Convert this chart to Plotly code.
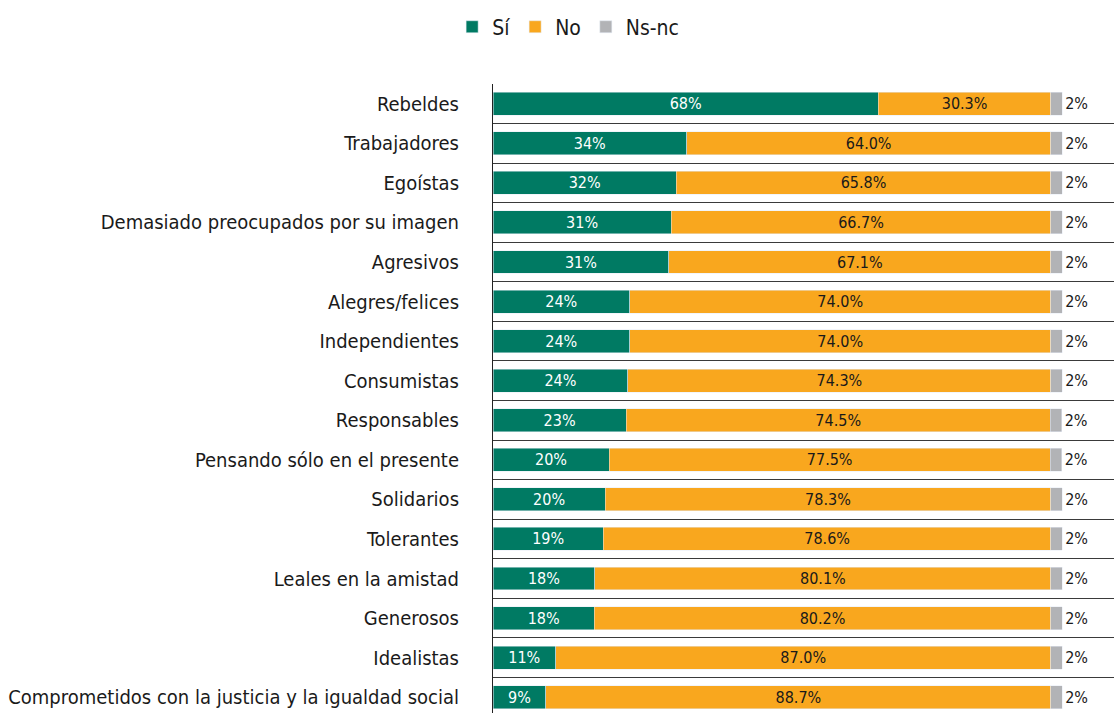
import plotly.graph_objects as go

categorias = [
    "Rebeldes", "Trabajadores", "Egoístas", "Demasiado preocupados por su imagen",
    "Agresivos", "Alegres/felices", "Independientes", "Consumistas", "Responsables",
    "Pensando sólo en el presente", "Solidarios", "Tolerantes", "Leales en la amistad",
    "Generosos", "Idealistas", "Comprometidos con la justicia y la igualdad social",
]
si = [67.7, 34.0, 32.2, 31.3, 30.9, 24.0, 24.0, 23.7, 23.4, 20.4, 19.7, 19.4, 17.9, 17.8, 11.0, 9.3]
no = [30.3, 64.0, 65.8, 66.7, 67.1, 74.0, 74.0, 74.3, 74.5, 77.5, 78.3, 78.6, 80.1, 80.2, 87.0, 88.7]
nsnc = [2.0] * 16

VERDE = "#007A63"
NARANJA = "#F9A71E"
GRIS = "#B2B3B6"
FUENTE = "Liberation Sans Narrow, DejaVu Sans Condensed, Arial Narrow, sans-serif"

fig = go.Figure()
fig.add_trace(go.Bar(
    y=categorias, x=si, name="Sí", orientation="h", marker_color=VERDE,
    text=si, texttemplate="%{x:.0f}%", textposition="inside", insidetextanchor="middle",
    textfont=dict(color="white", size=16, family=FUENTE), hoverinfo="skip",
))
fig.add_trace(go.Bar(
    y=categorias, x=no, name="No", orientation="h", marker_color=NARANJA,
    text=no, texttemplate="%{x:.1f}%", textposition="inside", insidetextanchor="middle",
    textfont=dict(color="#1a1a1a", size=16, family=FUENTE), hoverinfo="skip",
))
fig.add_trace(go.Bar(
    y=categorias, x=nsnc, name="Ns-nc", orientation="h", marker_color=GRIS,
    text=nsnc, texttemplate="%{x:.0f}%", textposition="outside", cliponaxis=False,
    textfont=dict(color="#1a1a1a", size=16, family=FUENTE), hoverinfo="skip",
))

fig.update_layout(
    width=1114, height=713,
    barmode="stack", bargap=0.42,
    margin=dict(l=493, r=0, t=84, b=0),
    paper_bgcolor="white", plot_bgcolor="white",
    font=dict(family=FUENTE, color="#1a1a1a"),
    uniformtext=dict(mode="show", minsize=16),
    legend=dict(
        orientation="h", xref="container", yref="container",
        x=0.51, y=0.962, xanchor="center", yanchor="middle",
        font=dict(size=21, family=FUENTE), itemwidth=30, traceorder="normal",
    ),
    xaxis=dict(
        range=[0, 109.1], showticklabels=False, showgrid=False, zeroline=False,
        showline=False, ticks="", automargin=False,
    ),
    yaxis=dict(
        categoryorder="array", categoryarray=categorias,
        range=[15.4, -0.5], automargin=False,
        tickson="boundaries", showgrid=True, gridcolor="#3a3a3a", gridwidth=1,
        showline=True, linecolor="#222222", linewidth=1, mirror=False,
        ticks="", ticklabelstandoff=29,
        tickfont=dict(size=20, family=FUENTE, color="#1a1a1a"),
    ),
)

fig.write_html("out.html")
